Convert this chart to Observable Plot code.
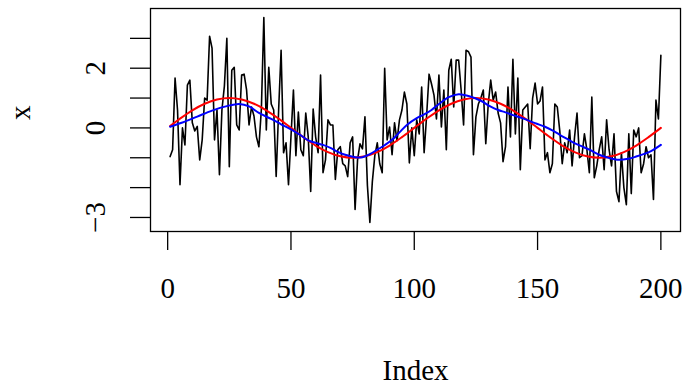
<!DOCTYPE html>
<html>
<head>
<meta charset="utf-8">
<script src="https://cdn.jsdelivr.net/npm/d3@7"></script>
<script src="https://cdn.jsdelivr.net/npm/@observablehq/plot@0.6"></script>
<style>
  html, body { margin: 0; padding: 0; background: #fff; }
  #chart svg { display: block; }
</style>
</head>
<body>
<div id="chart"></div>
<script>
// Observed noisy series x (Index 1..200)
const xValues = [
  -0.96, -0.73, 1.67, 0.6, -1.9, 0.0, -0.57, 1.43, 1.6, 0.17,
  -0.1, 0.05, -1.07, -0.4, 1.0, 0.93, 3.07, 2.67, -0.4, 0.6,
  -1.57, 0.6, 1.4, 3.0, -1.3, 1.93, 2.03, 0.1, -0.07, 1.77,
  1.8, 1.27, 0.1, 0.7, 0.4, -0.3, -0.63, 0.63, 3.7, -0.07,
  2.03, 0.8, 0.6, -1.63, 0.6, 2.6, -0.83, -0.5, -1.9, -0.3,
  1.27, -0.93, 0.53, -0.73, -0.93, 0.5, -0.3, -2.13, 0.63, -0.3,
  -0.83, 1.77, -1.5, -1.07, 0.27, 0.1, 0.1, -1.73, -0.73, -0.63,
  -1.2, -1.27, -1.63, -0.5, -0.3, -2.73, -1.07, -0.53, -0.7, 0.37,
  -1.93, -3.17, -1.8, -0.93, -0.5, -1.2, -1.5, 2.0, -0.4, 0.03,
  -0.9, 0.17, -0.43, 0.27, 0.6, 1.2, 0.8, -1.17, 0.0, -0.93,
  0.27, -0.2, 1.37, -0.83, 0.4, 1.8, 1.47, 1.1, 0.3, 1.77,
  0.03, 1.27, -0.73, 1.93, 2.3, 0.7, 2.27, 2.27, 1.27, 0.1,
  2.6, 2.55, 2.37, -0.9, 0.37, 0.8, 1.0, 1.27, -0.53, 0.8,
  1.6, 0.93, 1.2, 0.5, 0.17, -1.13, -0.63, 1.37, -0.3, 2.3,
  -0.2, 1.67, -1.4, 0.6, 0.7, 0.8, -0.7, 1.0, 1.5, 0.8,
  0.9, 1.37, -1.07, -0.83, -1.5, -1.2, 0.8, 0.7, -0.1, -1.2,
  -0.5, -0.83, -0.07, -1.27, -0.3, 0.5, -1.0, -0.93, -0.2, -0.73,
  -1.5, 1.03, -1.67, -1.27, -0.73, -0.3, -1.4, 0.27, -0.73, -1.27,
  -0.2, -2.13, -2.47, -0.83, -2.0, -2.57, -0.2, -2.2, -0.07, -0.3,
  0.0, -1.5, -1.2, -0.63, -1.0, -0.9, -2.4, 0.93, 0.3, 2.43
];

// Red curve
const redIndex = [1, 5, 10, 15, 20, 25, 30, 35, 40, 45, 50, 55, 60, 65, 70, 75, 80, 85, 90, 95, 100,
                  105, 110, 115, 120, 125, 130, 135, 140, 145, 150, 155, 160, 165, 170, 175, 180, 185, 190, 195, 200];
const redValues = [0.06, 0.31, 0.59, 0.81, 0.95, 1.0, 0.95, 0.81, 0.59, 0.31, 0.0, -0.31, -0.59, -0.81, -0.95, -1.0, -0.95, -0.81, -0.59, -0.31, 0.0,
                   0.31, 0.59, 0.81, 0.95, 1.0, 0.95, 0.81, 0.59, 0.31, 0.0, -0.31, -0.59, -0.81, -0.95, -1.0, -0.95, -0.81, -0.59, -0.31, 0.0];

// Blue smoothed curve
const blueIndex = [1, 6, 12, 18, 24, 29, 33, 37, 42, 46, 50, 54, 57, 60, 63, 66, 69, 72, 76, 79, 82, 85, 88, 91, 94, 97,
                   101, 104, 107, 110, 114, 118, 122, 127, 131, 134, 137, 140, 144, 149, 153, 156, 159, 162, 165, 168,
                   171, 175, 178, 183, 187, 190, 193, 196, 200];
const blueValues = [0.04, 0.18, 0.38, 0.58, 0.73, 0.8, 0.72, 0.5, 0.3, 0.12, -0.05, -0.25, -0.42, -0.5, -0.57, -0.67, -0.8, -0.9, -0.98, -0.98, -0.88, -0.73, -0.58, -0.4, -0.15, 0.1,
                    0.33, 0.45, 0.6, 0.8, 1.03, 1.13, 1.07, 0.91, 0.71, 0.6, 0.52, 0.43, 0.32, 0.16, 0.04, -0.08, -0.23, -0.37, -0.51, -0.62,
                    -0.73, -0.9, -0.98, -1.07, -1.03, -0.96, -0.88, -0.78, -0.57];

const xTicks = [0, 50, 100, 150, 200];
const yTicks = [-3, -2, -1, 0, 1, 2, 3];
const yTickLabels = [-3, 0, 2];

const series = xValues.map((v, i) => ({index: i + 1, x: v}));
const red = redIndex.map((d, i) => ({index: d, v: redValues[i]}));
const blue = blueIndex.map((d, i) => ({index: d, v: blueValues[i]}));

const font = "'Liberation Serif', 'Times New Roman', serif";
const fmt = d => (d < 0 ? "\u2212" + Math.abs(d) : String(d));

const chart = Plot.plot({
  width: 687,
  height: 385,
  marginLeft: 150,
  marginRight: 7,
  marginTop: 8,
  marginBottom: 154,
  style: {fontFamily: font, background: "#fff", color: "#000"},
  x: {domain: [-6.96, 207.96]},
  y: {domain: [-3.47, 4.0]},
  marks: [
    Plot.line(series, {x: "index", y: "x", stroke: "black", strokeWidth: 1.6}),
    Plot.line(red, {x: "index", y: "v", stroke: "#ff0000", strokeWidth: 2, curve: "catmull-rom"}),
    Plot.line(blue, {x: "index", y: "v", stroke: "#0000ff", strokeWidth: 2, curve: "catmull-rom"}),
    Plot.frame({stroke: "black", strokeWidth: 1.3}),
    Plot.axisX(xTicks, {tickSize: 19, tickPadding: 27, fontSize: 29, tickFormat: fmt, strokeWidth: 1.3, label: null}),
    Plot.axisY(yTicks, {tickSize: 20, tickFormat: () => "", strokeWidth: 1.3, label: null}),
    Plot.text(yTickLabels, {y: d => d, frameAnchor: "left", dx: -55, rotate: -90, text: fmt, fontSize: 29, textAnchor: "middle", lineAnchor: "middle"}),
    Plot.text(["Index"], {frameAnchor: "bottom", dy: 139, text: d => d, fontSize: 29, lineAnchor: "middle"}),
    Plot.text(["x"], {frameAnchor: "left", dx: -130, rotate: -90, text: d => d, fontSize: 29, lineAnchor: "middle"})
  ]
});

document.getElementById("chart").appendChild(chart);
</script>
</body>
</html>
